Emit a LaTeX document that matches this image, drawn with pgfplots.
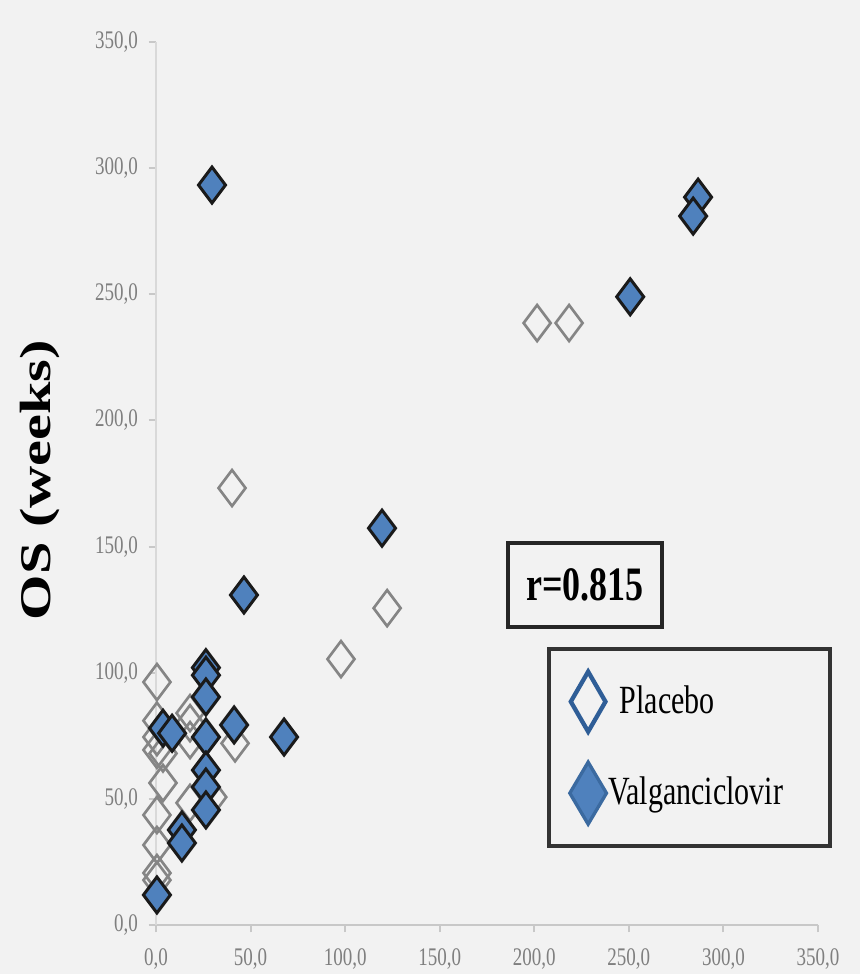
\documentclass[border=0pt]{standalone}
\usepackage{pgfplots}
\pgfplotsset{compat=1.18}
\usepackage{fontspec}
\setmainfont[FakeStretch=0.75]{Liberation Serif}
\newfontfamily\ylabfont{Liberation Serif}
\definecolor{bg}{HTML}{F2F2F2}
\definecolor{vblue}{HTML}{4F81BD}
\definecolor{vedge}{HTML}{1A1A1A}
\definecolor{pgray}{HTML}{858585}
\definecolor{legblue}{HTML}{2F5E97}
\definecolor{legedge}{HTML}{3B6AA0}
\definecolor{axgray}{HTML}{C8C8C8}
\definecolor{tickgray}{HTML}{7F7F7F}
\pgfplotstableread{
x y
201.5 238.6
218.4 238.6
40.2 173.2
122.2 125.6
97.8 105.4
0.5 96.3
18 84
0.5 81
18 80
41.8 72
18 73.3
0.5 74.5
0.5 69.4
3.7 68
3.7 56.3
18 48.4
30 50.7
0.5 43.6
0.5 31.7
0.5 20.6
0.5 17.8
}\placebo
\pgfplotstableread{
x y
29.6 293.3
286.6 288.5
284 281
250.7 249
119.5 157.3
46.5 130.8
26.4 102
26.4 99
26.4 90.4
41.3 79.3
67.7 74.5
26.4 74.5
3.7 78
8.5 76
26.4 61.4
26.4 54.7
26.4 45.6
13.7 37.7
13.7 32.5
0.5 11.9
}\valgan
\begin{document}
\begin{tikzpicture}
\path[use as bounding box] (-46.8pt,-14.7pt) rectangle (211.2pt,277.5pt);
\fill[bg] (-46.8pt,-14.7pt) rectangle (211.2pt,277.5pt);
\begin{axis}[
  scale only axis, width=198.6pt, height=264.9pt,
  xmin=0, xmax=350, ymin=0, ymax=350,
  axis x line*=bottom, axis y line*=left,
  x axis line style={draw=axgray, line width=0.8pt},
  y axis line style={draw=axgray!70, line width=0.6pt},
  xtick={0,50,...,350}, ytick={0,50,...,350},
  tick style={draw=axgray, line width=0.6pt},
  major tick length=2.2pt, tick align=outside,
  /pgf/number format/fixed, /pgf/number format/fixed zerofill,
  /pgf/number format/precision=1, /pgf/number format/use comma,
  /pgf/number format/assume math mode=true,
  tick label style={font=\fontsize{7.6}{9}\selectfont, text=tickgray},
  xticklabel style={yshift=-1.5pt},
  yticklabel style={xshift=0.3pt},
  ylabel={OS (weeks)},
  ylabel style={font=\ylabfont\bfseries\fontsize{17.5}{20}\selectfont, at={(axis description cs:-0.175,0.504)}, anchor=center, yscale=0.75},
  legend cell align=left,
  legend style={at={(axis cs:206.8,110)}, anchor=north west, draw=black!80, line width=1.2pt, fill=bg,
    inner xsep=5.7pt, inner ysep=6pt, row sep=8pt, column sep=0pt, nodes={inner sep=0pt},
    font=\fontsize{12}{14}\selectfont},
]
\addplot[only marks, mark=diamond, mark size=5.4pt, mark options={draw=pgray, line width=0.8pt, fill=none},
  legend image code/.code={\draw[draw=legblue, line width=1.3pt, fill=bg] (0pt,9pt)--(5.2pt,0pt)--(0pt,-9pt)--(-5.2pt,0pt)--cycle;}]
  table[x=x,y=y] {\placebo};
\addlegendentry{\makebox[61pt][l]{\hspace{3.5pt}Placebo}}
\addplot[only marks, mark=diamond*, mark size=5.4pt, mark options={draw=vedge, line width=0.9pt, fill=vblue},
  legend image code/.code={\draw[draw=legedge, line width=1pt, fill=vblue] (0pt,9.3pt)--(5.5pt,0pt)--(0pt,-9.3pt)--(-5.5pt,0pt)--cycle;}]
  table[x=x,y=y] {\valgan};
\addlegendentry{\makebox[61pt][l]{Valganciclovir}}
\node[draw=black!85, line width=1.2pt, fill=bg, minimum width=46pt, minimum height=25pt, inner sep=0pt,
  font=\bfseries\fontsize{14.4}{16}\selectfont] at (axis cs:226.9,134.8) {r=0.815};
\end{axis}
\end{tikzpicture}
\end{document}
